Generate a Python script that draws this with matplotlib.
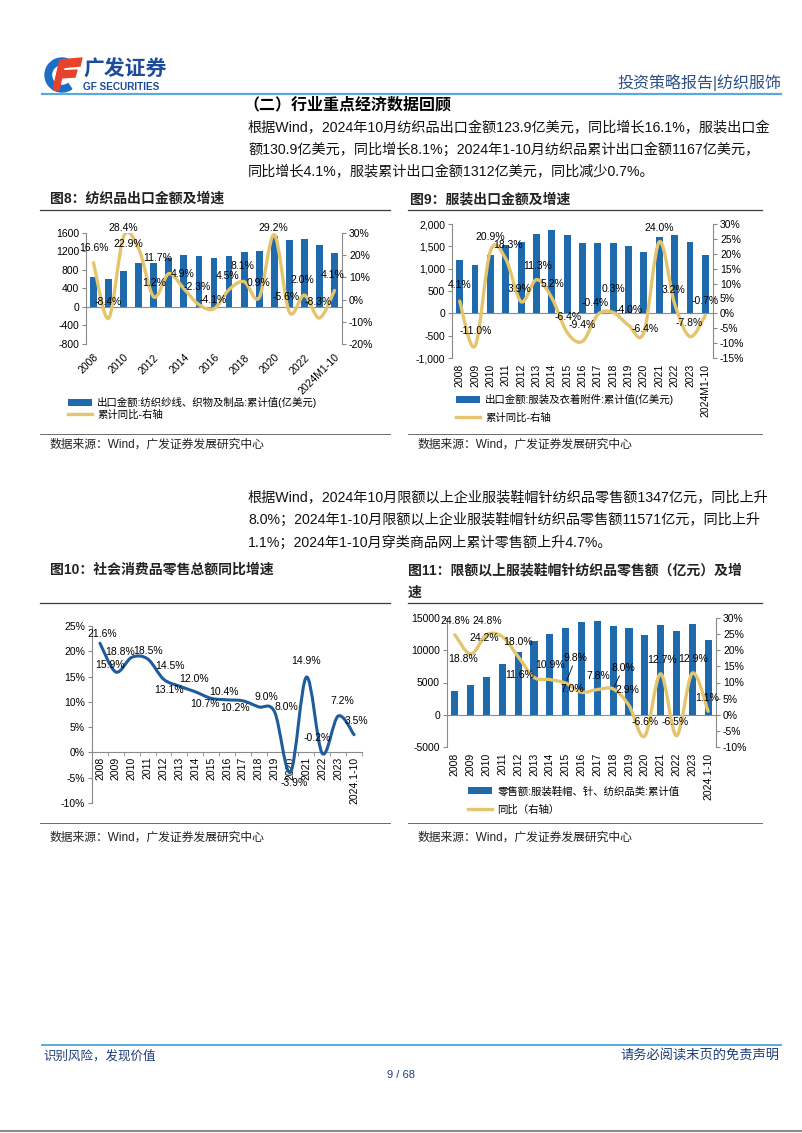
import numpy as np
import matplotlib
matplotlib.use("Agg")
import matplotlib.pyplot as plt
from matplotlib.path import Path
from matplotlib.patches import PathPatch, Patch, Wedge, Polygon
from matplotlib.lines import Line2D

plt.rcParams['font.family'] = ['Liberation Sans', 'Noto Sans CJK SC']
plt.rcParams['axes.unicode_minus'] = False

# -------------------------------
# Data
# -------------------------------
years = ['2008', '2009', '2010', '2011', '2012', '2013', '2014', '2015', '2016',
         '2017', '2018', '2019', '2020', '2021', '2022', '2023']
labels_export = years + ['2024M1-10']
labels_retail = years + ['2024.1-10']

# fig 8: textile export (100m USD) and cumulative yoy (%)
textile_export = [653, 599, 770, 946, 958, 1069, 1121, 1095, 1050, 1097, 1190,
                  1202, 1538, 1452, 1480, 1345, 1167]
textile_yoy = [16.6, -8.4, 28.4, 22.9, 1.2, 11.7, 4.9, -2.3, -4.1, 4.5, 8.1,
               0.9, 29.2, -5.6, 2.0, -8.3, 4.1]

# fig 9: apparel export (100m USD) and cumulative yoy (%)
apparel_export = [1198, 1071, 1295, 1532, 1591, 1771, 1862, 1743, 1576, 1572,
                  1576, 1513, 1374, 1703, 1754, 1592, 1312]
apparel_yoy = [4.1, -11.0, 20.9, 18.3, 3.9, 11.3, 5.2, -6.4, -9.4, -0.4, 0.3,
               -4.0, -6.4, 24.0, 3.2, -7.8, -0.7]

# fig 10: total retail sales of consumer goods yoy (%)
retail_yoy = [21.6, 15.9, 18.8, 18.5, 14.5, 13.1, 12.0, 10.7, 10.4, 10.2, 9.0,
              8.0, -3.9, 14.9, -0.2, 7.2, 3.5]

# fig 11: apparel/shoes/textile retail sales above quota (100m CNY) and yoy (%)
cloth_retail = [3700, 4550, 5790, 7900, 9750, 11400, 12500, 13450, 14400, 14560,
                13710, 13520, 12370, 13840, 13000, 14100, 11571]
cloth_yoy = [24.8, 18.8, 24.8, 24.2, 18.0, 11.6, 10.9, 9.8, 7.0, 7.8, 8.0, 2.9,
             -6.6, 12.7, -6.5, 12.9, 1.1]

# label offsets (pixels, +y is up)
offs8 = [(0, 15), (0, 16), (0, 9), (-10, 5), (0, 14), (-11, 16), (-1, 15), (-2, 18),
         (-1, 9), (-1, 14), (-2, 16), (-1, 15), (-1, 7), (-3, 15), (-2, 15),
         (-1, 16), (-2, 15)]
offs9 = [(0, 16), (1, 15), (0, 14), (2, 14), (-2, 13), (1, 14), (1, 14), (1, 15),
         (0, 16), (-3, 12), (0, 23), (1, 15), (1, 3), (0, 14), (-1, 14),
         (-1, 14), (0, 14)]
offs10 = [(2, 9), (-6, 7), (-12, 5), (0, 8), (6, 13), (-10, -4), (-1, 13), (-6, -6),
          (-3, 8), (-8, -7), (8, 10), (12, 5), (4, -11), (0, 16), (-5, 15),
          (4, 15), (2, 14)]
offs11 = [(0, 14), (-8, -5), (1, 14), (-18, -1), (0, 15), (-14, 2), (0, 15), (10, 25),
          (-9, 3), (1, 14), (10, 21), (-2, 15), (0, 14), (1, 14), (-1, 14),
          (1, 14), (-1, 13)]

BAR = '#1f6aac'
GOLD = '#e4c46c'
NAVY = '#1f5c9c'
AXC = '#8a8a8a'
FS = 7.5

W, H = 802, 1133
fig = plt.figure(figsize=(W / 100, H / 100), dpi=100)

page = fig.add_axes([0, 0, 1, 1])
page.set_xlim(0, W)
page.set_ylim(H, 0)
page.axis('off')


def box(x0, y0, x1, y1):
    return [x0 / W, 1 - y1 / H, (x1 - x0) / W, (y1 - y0) / H]


def smooth_line(ax, xs, ys, color, lw, t=1 / 6):
    # bezier curve through every data point (excel-like smoothing)
    n = len(xs)
    verts = [(xs[0], ys[0])]
    codes = [Path.MOVETO]
    for i in range(n - 1):
        a = i - 1 if i > 0 else i
        d = i + 2 if i + 2 < n else i + 1
        c1 = (xs[i] + (xs[i + 1] - xs[a]) * t, ys[i] + (ys[i + 1] - ys[a]) * t)
        c2 = (xs[i + 1] - (xs[d] - xs[i]) * t, ys[i + 1] - (ys[d] - ys[i]) * t)
        verts += [c1, c2, (xs[i + 1], ys[i + 1])]
        codes += [Path.CURVE4] * 3
    ax.add_patch(PathPatch(Path(verts, codes), facecolor='none', edgecolor=color,
                           lw=lw, capstyle='round', joinstyle='round', zorder=3))


def put_labels(ax, xs, vals, offs, leaders=()):
    for i, v in enumerate(vals):
        kw = {}
        if i in leaders:
            kw['arrowprops'] = dict(arrowstyle='-', lw=0.6, color='black',
                                    shrinkA=0, shrinkB=2)
        ax.annotate(f'{v:.1f}%', (xs[i], v), xytext=offs[i],
                    textcoords='offset pixels', ha='center', va='center',
                    fontsize=FS, zorder=6, **kw)


def only_spines(ax, keep):
    for s in ['left', 'right', 'top', 'bottom']:
        ax.spines[s].set_visible(s in keep)
        ax.spines[s].set_color(AXC)
        ax.spines[s].set_linewidth(0.8)


def dual_chart(rect, labels, bars, yoy, left_ticks, left_fmt, right_ticks,
               offs, bar_label, line_label, legend_xy, spacing, rot, leaders=()):
    x = np.arange(len(labels))
    ax = fig.add_axes(box(*rect))
    ax.bar(x, bars, width=0.45, color=BAR, zorder=2)
    ax.axhline(0, color=AXC, lw=0.8, zorder=1)
    ax.set_xlim(-0.5, len(labels) - 0.5)
    ax.set_ylim(left_ticks[0], left_ticks[-1])
    ax.set_yticks(left_ticks)
    ax.set_yticklabels([left_fmt(v) for v in left_ticks])
    only_spines(ax, ['left'])
    ax.tick_params(axis='y', direction='out', length=3, color=AXC,
                   labelsize=FS, pad=2)
    if rot == 45:
        ax.set_xticks(x[::2])
        ax.set_xticklabels(labels[::2], rotation=45, ha='right',
                           rotation_mode='anchor')
        ax.tick_params(axis='x', length=0, labelsize=FS, pad=6)
    else:
        ax.set_xticks(x)
        ax.set_xticklabels(labels, rotation=90)
        ax.tick_params(axis='x', length=0, labelsize=FS, pad=4)

    ax2 = ax.twinx()
    ax2.set_ylim(right_ticks[0], right_ticks[-1])
    ax2.set_yticks(right_ticks)
    ax2.set_yticklabels([f'{v}%' for v in right_ticks])
    only_spines(ax2, ['right'])
    ax2.tick_params(axis='y', direction='out', length=3, color=AXC,
                    labelsize=FS, pad=2)
    smooth_line(ax2, x, yoy, GOLD, 2.4)
    put_labels(ax2, x, yoy, offs, leaders)

    handles = [Patch(facecolor=BAR, edgecolor='none'),
               Line2D([0], [0], color=GOLD, lw=2.4)]
    ax.legend(handles, [bar_label, line_label], loc='upper left',
              bbox_to_anchor=(legend_xy[0] / W, 1 - legend_xy[1] / H),
              bbox_transform=fig.transFigure, frameon=False, fontsize=FS,
              borderpad=0, borderaxespad=0, handlelength=2.3,
              handletextpad=0.5, labelspacing=spacing)
    return ax, ax2


# -------------------------------
# Page header
# -------------------------------
page.add_patch(Wedge((62, 75), 17, 55, 305, width=6.5, color='#1b6fc4'))
page.add_patch(Polygon([(60, 60), (82, 58), (80, 66), (58, 68)], color='#e8412c'))
page.add_patch(Polygon([(61, 71), (77, 70), (75, 77), (59, 78)], color='#e8412c'))
page.add_patch(Polygon([(58, 68), (64, 67), (59, 90), (53, 90)], color='#e8412c'))
page.text(83, 70, '广发证券', fontsize=15, fontweight='bold', color='#1e4c9a',
          va='center', ha='left')
page.text(83, 87, 'GF SECURITIES', fontsize=7.2, fontweight='bold',
          color='#1e4c9a', va='center', ha='left')
page.text(781, 82, '投资策略报告|纺织服饰', fontsize=11.5, color='#2d4f86',
          va='center', ha='right')
page.plot([42, 781], [94, 94], color='#5aa9dc', lw=1.6)

page.text(243, 105, '（二）行业重点经济数据回顾', fontsize=11.5,
          fontweight='bold', va='center', ha='left')

para1 = ['根据Wind，2024年10月纺织品出口金额123.9亿美元，同比增长16.1%，服装出口金',
         '额130.9亿美元，同比增长8.1%；2024年1-10月纺织品累计出口金额1167亿美元，',
         '同比增长4.1%，服装累计出口金额1312亿美元，同比减少0.7%。']
for line, y in zip(para1, [128, 150, 172]):
    page.text(248, y, line, fontsize=10.2, va='center', ha='left', color='#111111')

para2 = ['根据Wind，2024年10月限额以上企业服装鞋帽针纺织品零售额1347亿元，同比上升',
         '8.0%；2024年1-10月限额以上企业服装鞋帽针纺织品零售额11571亿元，同比上升',
         '1.1%；2024年1-10月穿类商品网上累计零售额上升4.7%。']
for line, y in zip(para2, [497, 520, 543]):
    page.text(248, y, line, fontsize=10.2, va='center', ha='left', color='#111111')

# chart frames: titles, rules, sources
page.text(50, 199, '图8：纺织品出口金额及增速', fontsize=10, fontweight='bold',
          va='center', color='#222222')
page.text(410, 199, '图9：服装出口金额及增速', fontsize=10, fontweight='bold',
          va='center', color='#222222')
page.text(50, 570, '图10：社会消费品零售总额同比增速', fontsize=10,
          fontweight='bold', va='center', color='#222222')
page.text(408, 570, '图11：限额以上服装鞋帽针纺织品零售额（亿元）及增',
          fontsize=10, fontweight='bold', va='center', color='#222222')
page.text(408, 593, '速', fontsize=10, fontweight='bold', va='center',
          color='#222222')

for (xa, xb) in [(40, 390), (408, 762)]:
    page.plot([xa, xb], [210, 210], color='#3c3c3c', lw=0.9)
    page.plot([xa, xb], [434, 434], color='#555555', lw=0.6)
    page.plot([xa, xb], [603, 603], color='#3c3c3c', lw=0.9)
    page.plot([xa, xb], [823, 823], color='#555555', lw=0.6)
    page.text(xa + 10, 445, '数据来源：Wind，广发证券发展研究中心', fontsize=8.5,
              va='center', color='#222222')
    page.text(xa + 10, 838, '数据来源：Wind，广发证券发展研究中心', fontsize=8.5,
              va='center', color='#222222')

# footer
page.plot([42, 781], [1045, 1045], color='#5aa9dc', lw=1.4)
page.text(43, 1056, '识别风险，发现价值', fontsize=9, color='#1f3d7a',
          va='center', ha='left')
page.text(779, 1056, '请务必阅读末页的免责声明', fontsize=9.5, color='#1f3d7a',
          va='center', ha='right')
page.text(401, 1075, '9 / 68', fontsize=8, color='#1f3d7a', va='center',
          ha='center')
page.plot([0, W], [1131, 1131], color='#8a8a8a', lw=1.5)

# -------------------------------
# Fig 8
# -------------------------------
dual_chart((86, 233, 342, 344), labels_export, textile_export, textile_yoy,
           list(range(-800, 1601, 400)), lambda v: f'{v}',
           list(range(-20, 31, 10)), offs8,
           '出口金额:纺织纱线、织物及制品:累计值(亿美元)', '累计同比-右轴',
           (68, 397), 0.12, 45)

# -------------------------------
# Fig 9
# -------------------------------
dual_chart((452, 224, 713, 358), labels_export, apparel_export, apparel_yoy,
           list(range(-1000, 2001, 500)), lambda v: f'{v:,}',
           list(range(-15, 31, 5)), offs9,
           '出口金额:服装及衣着附件:累计值(亿美元)', '累计同比-右轴',
           (456, 394), 0.75, 90)

# -------------------------------
# Fig 10
# -------------------------------
x10 = np.arange(len(labels_retail))
ax10 = fig.add_axes(box(92, 626, 362, 803))
ax10.set_xlim(-0.5, len(labels_retail) - 0.5)
ax10.set_ylim(-10, 25)
ax10.set_yticks(range(-10, 26, 5))
ax10.set_yticklabels([f'{v}%' for v in range(-10, 26, 5)])
only_spines(ax10, ['left', 'bottom'])
ax10.spines['bottom'].set_position(('data', 0))
ax10.set_xticks(x10)
ax10.set_xticklabels(labels_retail, rotation=90)
ax10.set_xticks(np.arange(-0.5, len(labels_retail), 1), minor=True)
ax10.tick_params(axis='x', which='major', length=0, labelsize=FS, pad=3)
ax10.tick_params(axis='x', which='minor', length=3, color=AXC)
ax10.tick_params(axis='y', direction='out', length=3, color=AXC,
                 labelsize=FS, pad=2)
smooth_line(ax10, x10, retail_yoy, NAVY, 2.2)
put_labels(ax10, x10, retail_yoy, offs10)

# -------------------------------
# Fig 11
# -------------------------------
dual_chart((447, 618, 716, 747), labels_retail, cloth_retail, cloth_yoy,
           list(range(-5000, 15001, 5000)), lambda v: f'{v}',
           list(range(-10, 31, 5)), offs11,
           '零售额:服装鞋帽、针、纺织品类:累计值', '同比（右轴）',
           (468, 786), 0.75, 90, leaders=(7, 10))

fig.savefig('out.png', dpi=100)
